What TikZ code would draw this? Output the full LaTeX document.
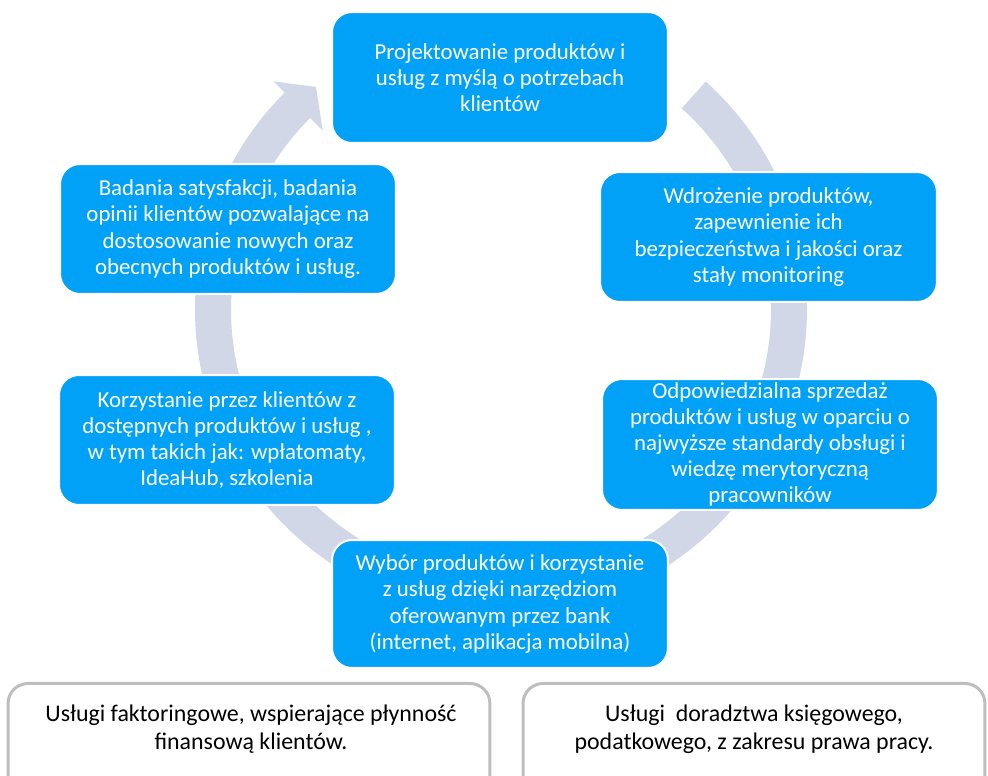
\documentclass[tikz,border=0pt]{standalone}
\usepackage{fontspec}
\setmainfont{Carlito}
\definecolor{boxblue}{RGB}{0,161,246}
\definecolor{ringgrey}{RGB}{209,215,231}
\definecolor{framegrey}{RGB}{190,190,190}
\begin{document}
\begin{tikzpicture}[x=0.02cm,y=-0.02cm,
  bluebox/.style={rectangle, rounded corners=0.4cm, fill=boxblue, draw=white, line width=0.04cm,
    minimum width=6.72cm, minimum height=2.6cm, inner sep=0pt, align=center, text=white,
    font=\fontsize{13pt}{14.9pt}\selectfont},
  greybox/.style={rectangle, rounded corners=0.4cm, draw=framegrey, line width=0.06cm, fill=white,
    minimum height=2.6cm, inner sep=0pt},
  greytext/.style={align=center, text=black, inner sep=0pt, font=\fontsize{13.6pt}{16pt}\selectfont}]
\useasboundingbox (0,0) rectangle (988,776);
\clip (0,0) rectangle (988,776);
% ring arrow
\begin{scope}[shift={(501,309)}, x=0.02cm, y=0.02cm]
\fill[ringgrey] (48:306) arc[start angle=48, end angle=-225, radius=306]
  -- (-225:322) -- (-230.2:289) -- (-225:252) -- (-225:270)
  arc[start angle=-225, end angle=48, radius=270] -- cycle;
\end{scope}
% cycle boxes
\node[bluebox, minimum height=2.62cm] (top) at (500,77.5) {Projektowanie produktów i\\usług z myślą o potrzebach\\klientów};
\node[bluebox, minimum width=6.74cm] (ru) at (768.5,237) {Wdrożenie produktów,\\zapewnienie ich\\bezpieczeństwa i jakości oraz\\stały monitoring};
\node[bluebox, minimum width=6.72cm, minimum height=2.62cm] (rl) at (770,444.5) {Odpowiedzialna sprzedaż\\produktów i usług w oparciu o\\najwyższe standardy obsługi i\\wiedzę merytoryczną\\pracowników};
\node[bluebox, minimum height=2.56cm] (bot) at (500,604) {Wybór produktów i korzystanie\\z usług dzięki narzędziom\\oferowanym przez bank\\(internet, aplikacja mobilna)};
\node[bluebox] (ll) at (227,440) {Korzystanie przez klientów z\\dostępnych produktów i usług ,\\w tym takich jak: wpłatomaty,\\IdeaHub, szkolenia};
\node[bluebox] (lu) at (228,229) {Badania satysfakcji, badania\\opinii klientów pozwalające na\\dostosowanie nowych oraz\\obecnych produktów i usług.};
% bottom boxes
\node[greybox, minimum width=9.64cm, anchor=north] (gl) at (249,682) {};
\node[greybox, minimum width=9.24cm, anchor=north] (gr) at (754,682) {};
\node[greytext] (tl) at (251,729) {Usługi faktoringowe, wspierające płynność\\finansową klientów.};
\node[greytext] (tr) at (754,729) {Usługi~ doradztwa księgowego,\\podatkowego, z zakresu prawa pracy.};
\end{tikzpicture}
\end{document}
